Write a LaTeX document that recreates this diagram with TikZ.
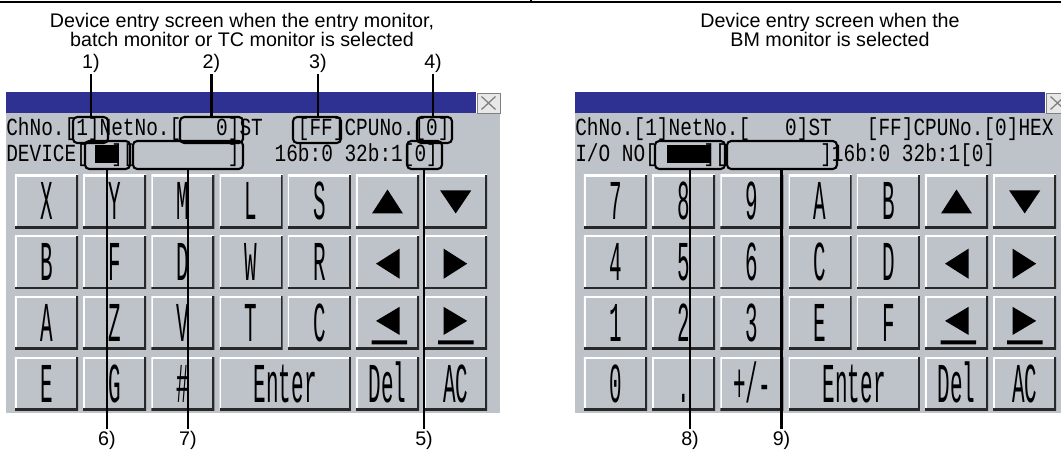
\documentclass[tikz,border=0pt]{standalone}
\usepackage{fontspec}
\setmainfont{Liberation Sans}
\newfontfamily\gotfont{Liberation Mono}
\usetikzlibrary{calc}
\definecolor{panelgray}{RGB}{190,194,201}
\definecolor{titleblue}{RGB}{46,49,146}
\definecolor{keyedge}{RGB}{40,40,40}
\definecolor{closegray}{RGB}{232,232,232}
% text of the screen and of the keys
\newcommand\scrtxt[1]{\scalebox{0.79}[1]{\gotfont\fontsize{17.5}{18}\selectfont #1}}
\newcommand\keytxt[1]{\scalebox{0.93}[2.5]{\gotfont\fontsize{16}{16}\selectfont #1}}
\newcommand\plmin{+/-}

\begin{document}
\begin{tikzpicture}[x=0.025cm,y=-0.025cm,
    key/.style={fill=panelgray,inner sep=0,minimum width=1.575cm,minimum height=1.325cm,
      text height=26.2pt,text depth=0pt,
      path picture={
        \draw[white,line width=2.4pt] (path picture bounding box.south west) |- (path picture bounding box.north east);
        \draw[keyedge,line width=2.8pt] (path picture bounding box.south west) -| (path picture bounding box.north east);}},
    closebox/.style={fill=closegray,draw=gray,line width=0.6pt,inner sep=0,
      minimum width=0.575cm,minimum height=0.5cm,
      path picture={
        \draw[line width=0.9pt] ($(path picture bounding box.center)+(-7,-6.5)$) -- ($(path picture bounding box.center)+(7,6.5)$)
          ($(path picture bounding box.center)+(-7,6.5)$) -- ($(path picture bounding box.center)+(7,-6.5)$);}},
    scr/.style={anchor=base west,inner sep=0},
    tagbox/.style={draw,line width=1.5pt,rounded corners=3pt,inner sep=0},
    tag/.style={inner sep=1pt,font=\fontsize{14}{14}\selectfont},
    title/.style={anchor=north,align=center,inner sep=0,font=\fontsize{14}{13.9}\selectfont},
    leader/.style={line width=1.5pt}]
	\useasboundingbox (0,0) rectangle (1061,452);
	\clip (0,0) rectangle (1061,452);
	
	% Rule on top
	\draw[line width=1.6pt] (0,2) -- (1061,2);
	\draw[line width=0.8pt] (531,0) -- (531,2);
	
	% Titles
	\node[title] (titl) at (242,12.5) {Device entry screen when the entry monitor,\\batch monitor or TC monitor is selected};
	\node[title] (titr) at (830,12.5) {Device entry screen when the\\BM monitor is selected};
	
	% The two screens
	\foreach \p/\dx/\rows in {l/0/{{X,Y,M,L,S},{B,F,D,W,R},{A,Z,V,T,C},{E,G,\#}},
	    r/569/{{7,8,9,A,B},{4,5,6,C,D},{1,2,3,E,F},{0,.,\plmin}}}{
		\fill[panelgray] (\dx+6,113) rectangle (\dx+500,413);
		\fill[titleblue] (\dx+6,92) rectangle (\dx+476,113);
		\node[closebox] (close\p) at (\dx+488.5,103) {};
		
		% Keys
		\foreach \row [count=\r from 0] in \rows
			\foreach \t [count=\c from 0] in \row
				\node[key] (k\p\c\r) at ({\dx+46.5+68.2*\c},{201.5+60.7*\r}) {\keytxt{\t}};
		\foreach \c in {5,6}
			\foreach \r in {0,1,2}
				\node[key] (k\p\c\r) at ({\dx+46.5+68.2*\c},{201.5+60.7*\r}) {};
		\node[key,minimum width=3.28cm] (k\p enter) at (\dx+285.2,383.6) {\keytxt{Enter}};
		\node[key] (k\p53) at (\dx+387.5,383.6) {\keytxt{Del}};
		\node[key] (k\p63) at (\dx+455.7,383.6) {\keytxt{AC}};
		
		% Cursor keys
		\fill[shift={(k\p50.center)}] (0,-12) -- (15.5,12) -- (-15.5,12) -- cycle;
		\fill[shift={(k\p60.center)}] (-15.5,-11) -- (15.5,-11) -- (0,12) -- cycle;
		\fill[shift={(k\p51.center)}] (-11.5,1.5) -- (12,-13.5) -- (12,16.5) -- cycle;
		\fill[shift={(k\p61.center)}] (11.5,1.5) -- (-12,-13.5) -- (-12,16.5) -- cycle;
		\fill[shift={(k\p52.center)}] (-11.5,-2) -- (12,-16) -- (12,12) -- cycle (-16,17.5) rectangle (19.5,21.5);
		\fill[shift={(k\p62.center)}] (11.5,-2) -- (-12,-16) -- (-12,12) -- cycle (-17.5,17.5) rectangle (18,21.5);
	}
	
	% Screen lines
	\node[scr] (chl) at (6,136) {\scrtxt{ChNo.[1]NetNo.[~~~0]ST~~~[FF]CPUNo.[0]}};
	\node[scr] (devl) at (6,162) {\scrtxt{DEVICE[~~][~~~~~~~~]~~~16b:0~32b:1[0]}};
	\node[scr] (chr) at (575,136) {\scrtxt{ChNo.[1]NetNo.[~~~0]ST~~~[FF]CPUNo.[0]HEX}};
	\node[scr] (ior) at (575,162) {\scrtxt{I/O~NO[~~~~][~~~~~~~~]16b:0~32b:1[0]}};
	\fill (95,145) rectangle (118,163);
	\fill (667,145) rectangle (710,163);
	
	% Marked fields
	\node[tagbox,minimum width=0.875cm,minimum height=0.65cm] (b1) at (90.5,130) {};
	\node[tagbox,minimum width=1.575cm,minimum height=0.65cm] (b2) at (211.5,130) {};
	\node[tagbox,minimum width=1.2cm,minimum height=0.65cm] (b3) at (317,130) {};
	\node[tagbox,minimum width=0.875cm,minimum height=0.65cm] (b4) at (434.5,130) {};
	\node[tagbox,minimum width=1.125cm,minimum height=0.7cm] (b6) at (107.5,155) {};
	\node[tagbox,minimum width=2.75cm,minimum height=0.7cm] (b7) at (188,155) {};
	\node[tagbox,minimum width=0.875cm,minimum height=0.7cm] (b5) at (424.5,155) {};
	\node[tagbox,minimum width=1.75cm,minimum height=0.7cm] (b8) at (690,155) {};
	\node[tagbox,minimum width=2.75cm,minimum height=0.7cm] (b9) at (782,155) {};
	
	% Numbers
	\node[tag] (l1) at (91,63.5) {1)};
	\node[tag] (l2) at (211.5,63.5) {2)};
	\node[tag] (l3) at (318,63.5) {3)};
	\node[tag] (l4) at (433,63.5) {4)};
	\node[tag] (l6) at (107,440) {6)};
	\node[tag] (l7) at (188,440) {7)};
	\node[tag] (l5) at (424,440) {5)};
	\node[tag] (l8) at (690,440) {8)};
	\node[tag] (l9) at (781.5,440) {9)};
	
	\foreach \n in {1,2,3,4}
		\draw[leader] (l\n.south) -- (l\n.south |- b\n.north);
	\foreach \n in {6,7,5,8,9}
		\draw[leader] (l\n.north) -- (l\n.north |- b\n.south);
\end{tikzpicture}
\end{document}
